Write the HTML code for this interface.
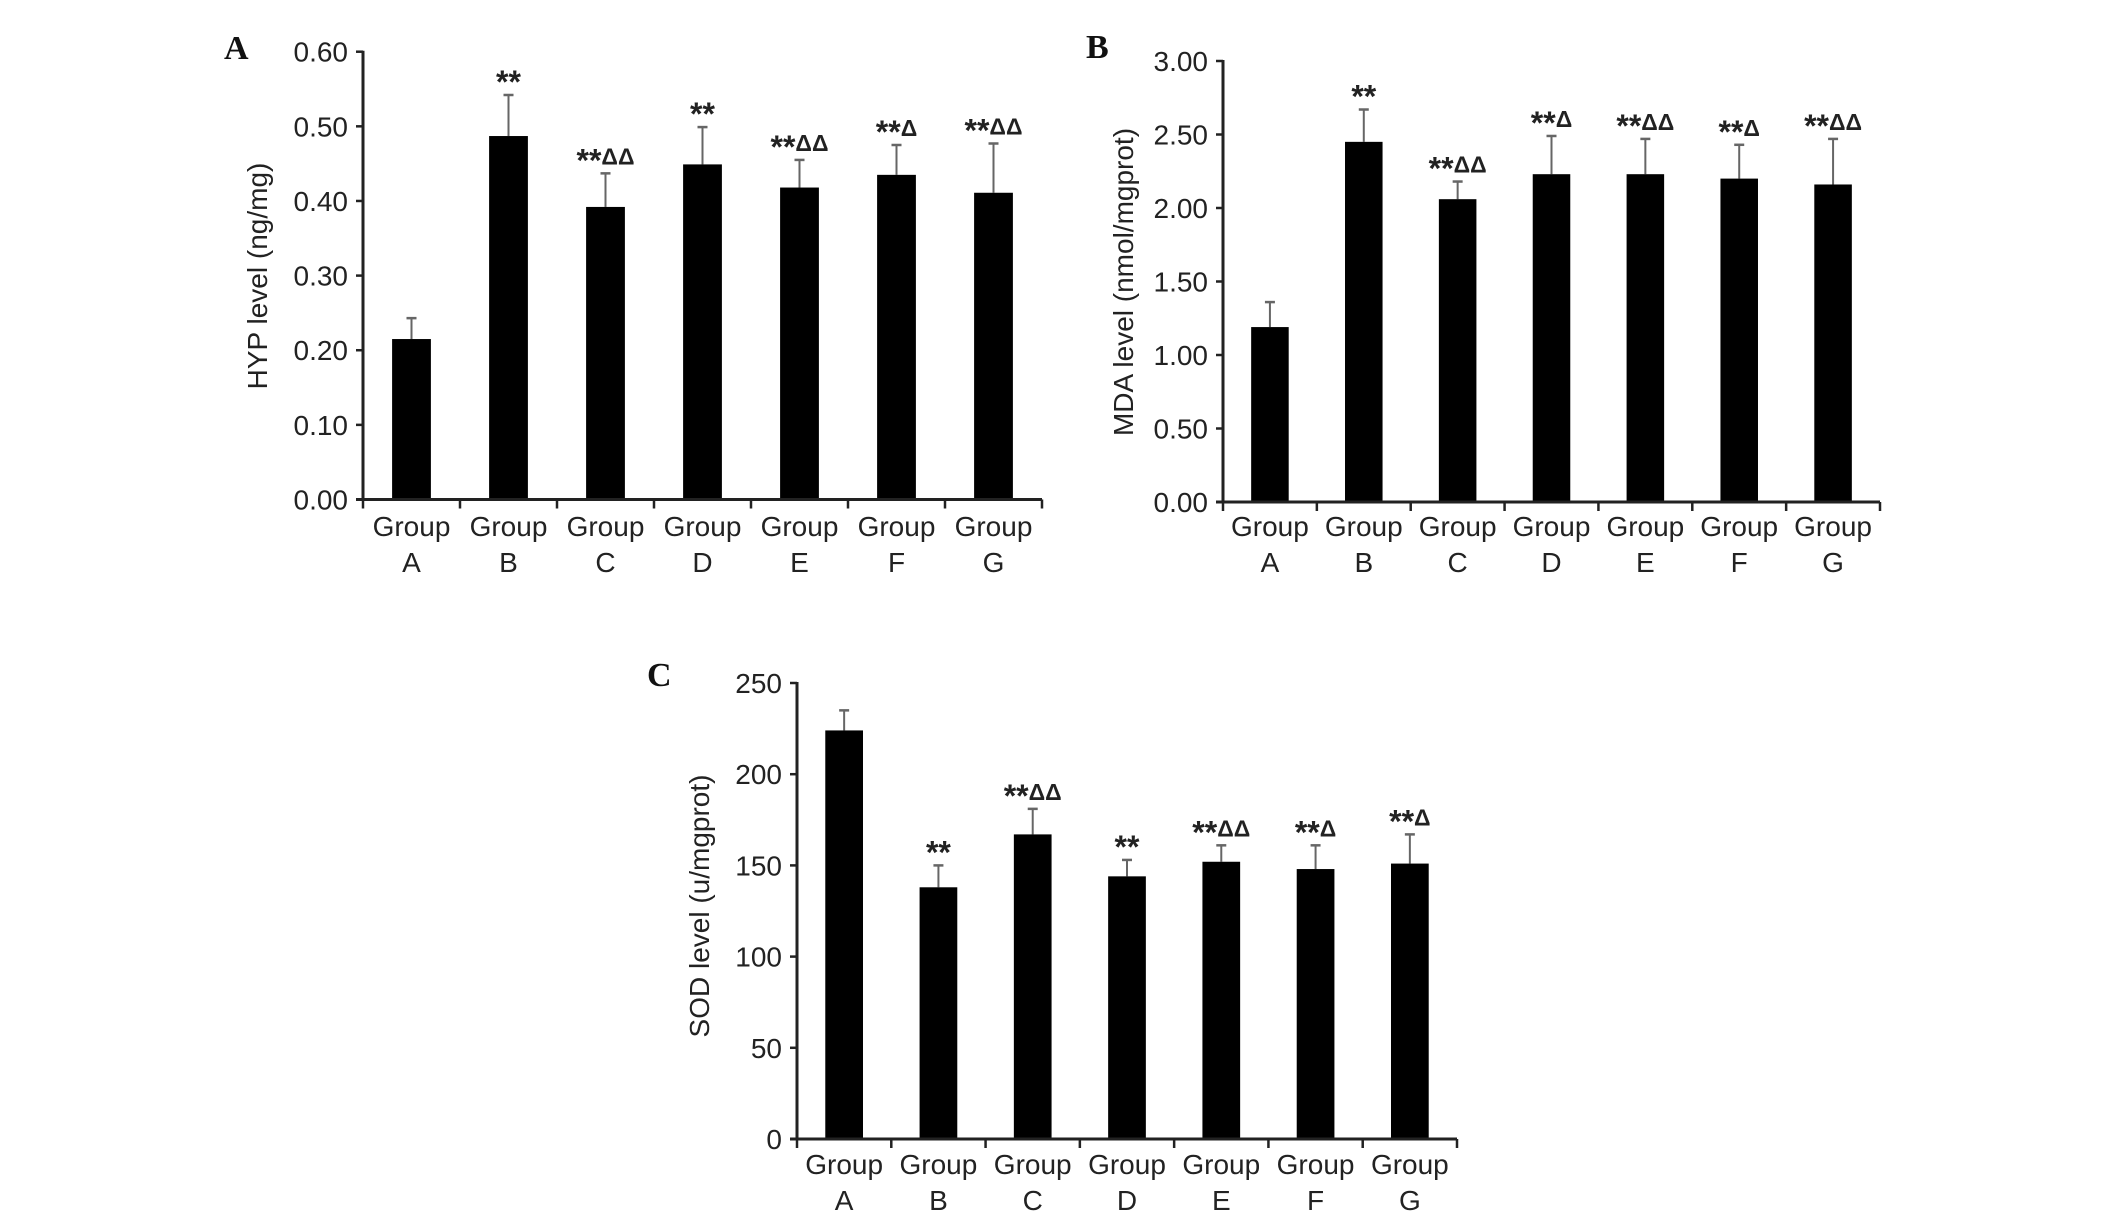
<!DOCTYPE html>
<html><head><meta charset="utf-8">
<style>
html,body{margin:0;padding:0;background:#fff;}
svg{display:block;}
text{font-family:"Liberation Sans",Arial,sans-serif;fill:#222;}
</style></head>
<body>
<svg id="fig" width="2126" height="1222" viewBox="0 0 2126 1222" xmlns="http://www.w3.org/2000/svg"></svg>
<script>
const categories = ["A","B","C","D","E","F","G"];
const hypValues = [0.215,0.487,0.392,0.449,0.418,0.435,0.411];
const hypErrTop = [0.243,0.542,0.437,0.499,0.455,0.475,0.477];
const hypMarks = ["","**","**ΔΔ","**","**ΔΔ","**Δ","**ΔΔ"];
const hypTicks = [0,0.1,0.2,0.3,0.4,0.5,0.6];
const mdaValues = [1.19,2.45,2.06,2.23,2.23,2.20,2.16];
const mdaErrTop = [1.36,2.67,2.18,2.49,2.47,2.43,2.47];
const mdaMarks = ["","**","**ΔΔ","**Δ","**ΔΔ","**Δ","**ΔΔ"];
const mdaTicks = [0,0.5,1,1.5,2,2.5,3];
const sodValues = [224,138,167,144,152,148,151];
const sodErrTop = [235,150,181,153,161,161,167];
const sodMarks = ["","**","**ΔΔ","**","**ΔΔ","**Δ","**Δ"];
const sodTicks = [0,50,100,150,200,250];

const NS="http://www.w3.org/2000/svg";
const svg=document.getElementById('fig');
function mk(tag,attrs,parent){const e=document.createElementNS(NS,tag);for(const k in attrs)e.setAttribute(k,attrs[k]);(parent||svg).appendChild(e);return e;}

function panel(cfg){
  const g=mk('g',{});
  
  
  const x0=cfg.x0,x1=cfg.x1,yZero=cfg.yZero,yTop=cfg.yTop,vmax=cfg.ticks[cfg.ticks.length-1];
  const yS=v=>yZero-(v/vmax)*(yZero-yTop);
  const cw=(x1-x0)/categories.length;
  const xC=i=>x0+cw*(i+0.5);
  const bw=cw*0.4;
  const lab=mk('text',{x:cfg.labX,y:cfg.labY,'font-size':34,'font-weight':'bold',style:'font-family:"Liberation Serif",serif;fill:#111'},g);
  lab.textContent=cfg.letter;
  
  
  cfg.values.forEach((v,i)=>{
    const et=yS(cfg.err[i]);
    const el=mk('line',{x1:xC(i),x2:xC(i),y1:yS(v),y2:et,stroke:'#666','stroke-width':2},g);
    
    
    const cap=mk('line',{x1:xC(i)-5,x2:xC(i)+5,y1:et,y2:et,stroke:'#666','stroke-width':2.5},g);
    
    
    const r=mk('rect',{x:xC(i)-bw/2,y:yS(v),width:bw,height:yZero-yS(v),fill:'#000'},g);
    
    
    if(cfg.marks[i]){
      const t=mk('text',{x:xC(i),y:et-2,'text-anchor':'middle','font-weight':'bold'},g);
      
      
      const m=cfg.marks[i];const stars=m.replace(/Δ/g,'');const tri=m.replace(/\*/g,'');
      const s1=mk('tspan',{'font-size':32},t);s1.textContent=stars;
      if(tri){const s2=mk('tspan',{'font-size':23,dy:-7},t);s2.textContent=tri;}
    }
    const gl=mk('text',{x:xC(i),y:cfg.grpY,'text-anchor':'middle','font-size':28},g);
    gl.textContent='Group';
    
    
    const ll=mk('text',{x:xC(i),y:cfg.grpY+36,'text-anchor':'middle','font-size':28},g);
    ll.textContent=categories[i];
    
    
  });
  const ya=mk('line',{x1:x0,x2:x0,y1:yTop-1,y2:yZero,stroke:'#222','stroke-width':3},g);
  
  
  const xa=mk('line',{x1:x0-7,x2:x1,y1:yZero,y2:yZero,stroke:'#222','stroke-width':3},g);
  
  
  for(let i=1;i<=categories.length;i++){
    const tk=mk('line',{x1:x0+cw*i,x2:x0+cw*i,y1:yZero,y2:yZero+9,stroke:'#222','stroke-width':2.5},g);
    
    
  }
  const tk0=mk('line',{x1:x0,x2:x0,y1:yZero,y2:yZero+9,stroke:'#222','stroke-width':2.5},g);
  
  
  cfg.ticks.forEach(v=>{
    const tk=mk('line',{x1:x0-7,x2:x0,y1:yS(v),y2:yS(v),stroke:'#222','stroke-width':2.5},g);
    
    
    const t=mk('text',{x:x0-15,y:yS(v)+10,'text-anchor':'end','font-size':28},g);
    t.textContent=cfg.fmt(v);
    
    
  });
  const yt=mk('text',{x:0,y:0,'text-anchor':'middle','font-size':28,transform:`translate(${cfg.titleX},${cfg.titleY}) rotate(-90)`},g);
  yt.textContent=cfg.title;
  
  
}

panel({name:'panel-a-hyp',letter:'A',labX:224,labY:59,x0:363,x1:1042,yZero:499.5,yTop:51.7,ticks:hypTicks,fmt:v=>v.toFixed(2),values:hypValues,err:hypErrTop,marks:hypMarks,grpY:536,title:'HYP level (ng/mg)',titleX:267,titleY:276});
panel({name:'panel-b-mda',letter:'B',labX:1086,labY:58,x0:1223,x1:1880,yZero:502,yTop:61,ticks:mdaTicks,fmt:v=>v.toFixed(2),values:mdaValues,err:mdaErrTop,marks:mdaMarks,grpY:536,title:'MDA level (nmol/mgprot)',titleX:1133,titleY:282});
panel({name:'panel-c-sod',letter:'C',labX:647,labY:686,x0:797,x1:1457,yZero:1139,yTop:683,ticks:sodTicks,fmt:v=>String(v),values:sodValues,err:sodErrTop,marks:sodMarks,grpY:1174,title:'SOD level (u/mgprot)',titleX:709,titleY:906});
</script>
</body></html>
